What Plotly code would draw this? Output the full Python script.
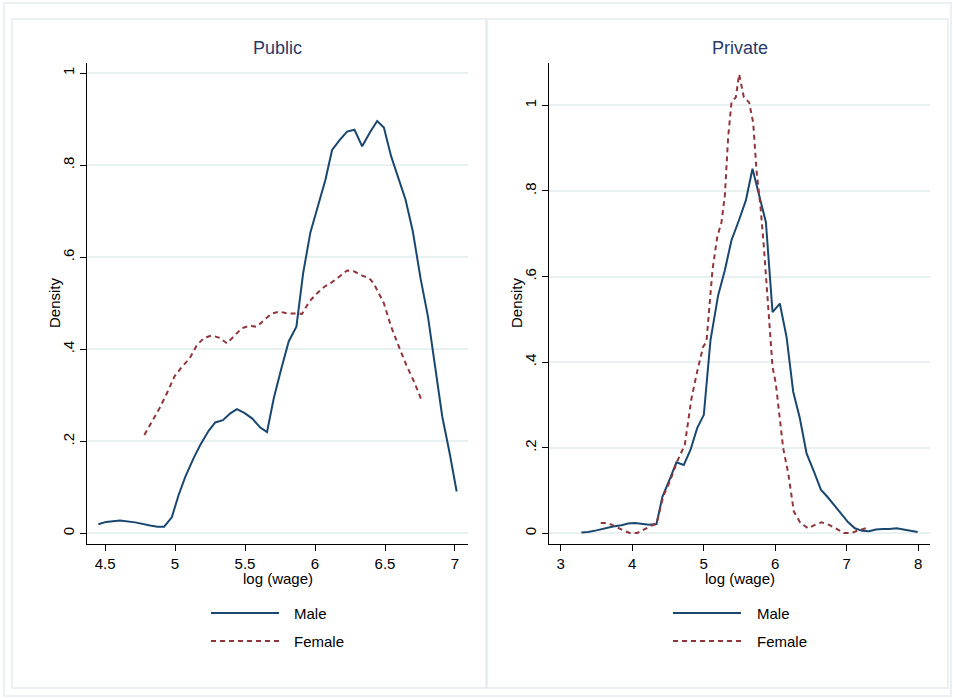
import plotly.graph_objects as go

# ---------------- data ----------------
pub_male_x = [4.452, 4.507, 4.607, 4.715, 4.822, 4.875, 4.922, 4.977, 5.025, 5.073, 5.132, 5.180,
              5.240, 5.287, 5.342, 5.395, 5.442, 5.495, 5.550, 5.609, 5.657, 5.705, 5.760, 5.812,
              5.867, 5.915, 5.967, 6.020, 6.074, 6.122, 6.177, 6.229, 6.282, 6.337, 6.392, 6.444,
              6.492, 6.544, 6.599, 6.647, 6.699, 6.754, 6.807, 6.857, 6.909, 6.962, 7.012]
pub_male_y = [0.020, 0.025, 0.028, 0.024, 0.017, 0.0145, 0.0145, 0.035, 0.083, 0.123, 0.163, 0.192,
              0.223, 0.241, 0.246, 0.261, 0.270, 0.262, 0.250, 0.230, 0.220, 0.293, 0.359, 0.417,
              0.449, 0.565, 0.654, 0.710, 0.768, 0.833, 0.855, 0.873, 0.877, 0.841, 0.871, 0.896,
              0.882, 0.819, 0.768, 0.725, 0.656, 0.554, 0.471, 0.362, 0.254, 0.174, 0.091]

pub_female_x = [4.781, 4.834, 4.889, 4.941, 4.996, 5.049, 5.104, 5.156, 5.208, 5.263, 5.318, 5.371,
                5.423, 5.478, 5.531, 5.585, 5.638, 5.693, 5.745, 5.800, 5.853, 5.907, 5.960, 6.015,
                6.067, 6.122, 6.175, 6.229, 6.282, 6.337, 6.389, 6.420, 6.492, 6.544, 6.599, 6.652,
                6.707, 6.766]
pub_female_y = [0.214, 0.243, 0.272, 0.304, 0.341, 0.362, 0.380, 0.409, 0.425, 0.430, 0.425, 0.413,
                0.428, 0.446, 0.451, 0.449, 0.464, 0.478, 0.482, 0.478, 0.478, 0.477, 0.504, 0.522,
                0.536, 0.546, 0.558, 0.571, 0.569, 0.560, 0.554, 0.543, 0.500, 0.449, 0.406, 0.366,
                0.330, 0.286]

priv_male_x = [3.289, 3.382, 3.499, 3.616, 3.732, 3.849, 3.942, 4.035, 4.129, 4.236, 4.339, 4.423,
               4.525, 4.618, 4.721, 4.814, 4.908, 5.001, 5.094, 5.201, 5.295, 5.388, 5.491, 5.589,
               5.682, 5.775, 5.869, 5.962, 6.064, 6.158, 6.251, 6.344, 6.438, 6.540, 6.638, 6.731,
               6.834, 6.927, 7.020, 7.114, 7.216, 7.310, 7.408, 7.501, 7.594, 7.697, 7.790, 7.893,
               7.991]
priv_male_y = [0.002, 0.003, 0.007, 0.012, 0.016, 0.019, 0.023, 0.024, 0.022, 0.020, 0.022, 0.086,
               0.127, 0.166, 0.160, 0.195, 0.246, 0.277, 0.451, 0.556, 0.615, 0.685, 0.731, 0.778,
               0.852, 0.793, 0.727, 0.517, 0.537, 0.459, 0.331, 0.269, 0.187, 0.145, 0.102, 0.085,
               0.064, 0.045, 0.026, 0.012, 0.006, 0.005, 0.009, 0.010, 0.010, 0.012, 0.009, 0.005,
               0.003]

priv_female_x = [3.560, 3.662, 3.770, 3.872, 3.965, 4.073, 4.175, 4.278, 4.339, 4.432, 4.525, 4.628,
                 4.735, 4.828, 4.908, 4.992, 5.038, 5.122, 5.188, 5.248, 5.295, 5.341, 5.388, 5.449,
                 5.495, 5.561, 5.635, 5.691, 5.738, 5.794, 5.841, 5.892, 5.962, 6.008, 6.055, 6.111,
                 6.181, 6.260, 6.353, 6.461, 6.554, 6.647, 6.755, 6.857, 6.960, 7.067, 7.160, 7.268]
priv_female_y = [0.024, 0.024, 0.016, 0.007, 0.001, 0.001, 0.010, 0.019, 0.022, 0.086, 0.121, 0.168,
                 0.207, 0.315, 0.378, 0.436, 0.448, 0.615, 0.692, 0.727, 0.789, 0.925, 1.007, 1.019,
                 1.073, 1.019, 1.007, 0.960, 0.848, 0.762, 0.669, 0.556, 0.389, 0.350, 0.277, 0.199,
                 0.141, 0.051, 0.024, 0.012, 0.020, 0.026, 0.020, 0.010, 0.001, 0.001, 0.007, 0.012]

panel_titles = ["Public", "Private"]
series_names = ["Male", "Female"]
pub_xticks = [4.5, 5, 5.5, 6, 6.5, 7]
pub_xticklabels = ["4.5", "5", "5.5", "6", "6.5", "7"]
priv_xticks = [3, 4, 5, 6, 7, 8]
priv_xticklabels = ["3", "4", "5", "6", "7", "8"]
pub_yticks = [0, 0.2, 0.4, 0.6, 0.8, 1]
priv_yticks = [0, 0.2, 0.4, 0.6, 0.8, 1]
ytick_labels = ["0", ".2", ".4", ".6", ".8", "1"]

# ---------------- style ----------------
W, H = 953, 698
MALE_C = "#1a476f"
FEMALE_C = "#90353b"
TITLE_C = "#2a3a68"
GRID_C = "#e9f0f2"
FRAME_C = "#e3ecef"
FONT = "Liberation Sans, Arial, sans-serif"
TXT = 15


def px(x):
    return x / W


def py(y):
    return 1 - y / H


fig = go.Figure()

fig.add_trace(go.Scatter(x=pub_male_x, y=pub_male_y, mode="lines", name=series_names[0],
                         line=dict(color=MALE_C, width=2), xaxis="x", yaxis="y", showlegend=False))
fig.add_trace(go.Scatter(x=pub_female_x, y=pub_female_y, mode="lines", name=series_names[1],
                         line=dict(color=FEMALE_C, width=2, dash="5px,4px"), xaxis="x", yaxis="y",
                         showlegend=False))
fig.add_trace(go.Scatter(x=priv_male_x, y=priv_male_y, mode="lines", name=series_names[0],
                         line=dict(color=MALE_C, width=2), xaxis="x2", yaxis="y2", showlegend=False))
fig.add_trace(go.Scatter(x=priv_female_x, y=priv_female_y, mode="lines", name=series_names[1],
                         line=dict(color=FEMALE_C, width=2, dash="5px,4px"), xaxis="x2", yaxis="y2",
                         showlegend=False))

ydom = [py(544), py(63)]
axis_common = dict(showline=True, linecolor="#000000", linewidth=1.3, ticks="outside", ticklen=6,
                   tickcolor="#000000", tickfont=dict(family=FONT, size=TXT, color="#000000"),
                   zeroline=False, mirror=False)

fig.update_layout(
    width=W, height=H,
    margin=dict(l=0, r=0, t=0, b=0),
    paper_bgcolor="white", plot_bgcolor="white",
    font=dict(family=FONT),
    showlegend=False,
    xaxis=dict(domain=[px(87), px(468)], range=[4.371, 7.093], tickvals=pub_xticks,
               ticktext=pub_xticklabels, showgrid=False, anchor="y", **axis_common),
    yaxis=dict(domain=ydom, range=[-0.023, 1.022], tickvals=pub_yticks, ticktext=ytick_labels,
               tickangle=-90, showgrid=True, gridcolor=GRID_C, gridwidth=1.5, anchor="x",
               **axis_common),
    xaxis2=dict(domain=[px(549), px(930)], range=[2.836, 8.164], tickvals=priv_xticks,
                ticktext=priv_xticklabels, showgrid=False, anchor="y2", **axis_common),
    yaxis2=dict(domain=ydom, range=[-0.0248, 1.099], tickvals=priv_yticks, ticktext=ytick_labels,
                tickangle=-90, showgrid=True, gridcolor=GRID_C, gridwidth=1.5, anchor="x2",
                **axis_common),
)

shapes = []
# outer frame and panel frames
shapes.append(dict(type="rect", xref="paper", yref="paper", x0=px(4), x1=px(951), y0=py(696), y1=py(3),
                   line=dict(color=FRAME_C, width=1.5)))
shapes.append(dict(type="rect", xref="paper", yref="paper", x0=px(12), x1=px(486), y0=py(688), y1=py(19),
                   line=dict(color=FRAME_C, width=1.5)))
shapes.append(dict(type="rect", xref="paper", yref="paper", x0=px(487), x1=px(948), y0=py(688), y1=py(19),
                   line=dict(color=FRAME_C, width=1.5)))

annotations = []
panels = [
    dict(cx=277.5, axis_x=54, leg_x0=211, leg_x1=279, leg_tx=292, title=panel_titles[0]),
    dict(cx=739.5, axis_x=516, leg_x0=673, leg_x1=741, leg_tx=755, title=panel_titles[1]),
]
for p in panels:
    annotations.append(dict(text=p["title"], x=px(p["cx"]), y=py(48), xref="paper", yref="paper",
                            showarrow=False, xanchor="center", yanchor="middle",
                            font=dict(family=FONT, size=18, color=TITLE_C)))
    annotations.append(dict(text="Density", x=px(p["axis_x"]), y=py(303), xref="paper", yref="paper",
                            showarrow=False, textangle=-90, xanchor="center", yanchor="middle",
                            font=dict(family=FONT, size=TXT, color="#000000")))
    annotations.append(dict(text="log (wage)", x=px(p["cx"]), y=py(578), xref="paper", yref="paper",
                            showarrow=False, xanchor="center", yanchor="middle",
                            font=dict(family=FONT, size=TXT, color="#000000")))
    # legend keys
    shapes.append(dict(type="line", xref="paper", yref="paper", x0=px(p["leg_x0"]), x1=px(p["leg_x1"]),
                       y0=py(613), y1=py(613), line=dict(color=MALE_C, width=2)))
    shapes.append(dict(type="line", xref="paper", yref="paper", x0=px(p["leg_x0"]), x1=px(p["leg_x1"]),
                       y0=py(641), y1=py(641), line=dict(color=FEMALE_C, width=2, dash="5px,4px")))
    annotations.append(dict(text=series_names[0], x=px(p["leg_tx"]), y=py(613), xref="paper",
                            yref="paper", showarrow=False, xanchor="left", yanchor="middle",
                            font=dict(family=FONT, size=TXT, color="#000000")))
    annotations.append(dict(text=series_names[1], x=px(p["leg_tx"]), y=py(641), xref="paper",
                            yref="paper", showarrow=False, xanchor="left", yanchor="middle",
                            font=dict(family=FONT, size=TXT, color="#000000")))

fig.update_layout(shapes=shapes, annotations=annotations)

fig.write_html("out.html", config={"displayModeBar": False},
               post_script="document.body.style.margin='0';document.body.style.overflow='hidden';")
